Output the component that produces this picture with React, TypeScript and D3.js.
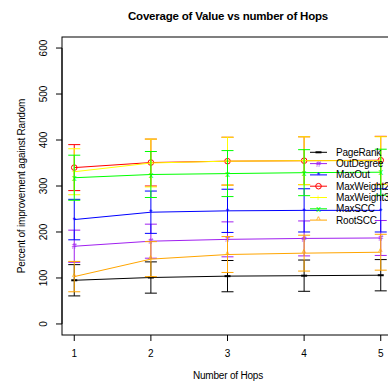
import React from "react";
import * as d3 from "d3";

const hops = [1, 2, 3, 4, 5];
const seriesNames = ["PageRank", "OutDegree", "MaxOut", "MaxWeight2", "MaxWeight3", "MaxSCC", "RootSCC"];
const seriesColors = ["#000000", "#A020F0", "#0000FF", "#FF0000", "#FFFF00", "#00FF00", "#FFA500"];
const seriesSymbols = ["-", "#", "*", "o", "+", "x", "^"];

const pageRank = [95, 101, 104, 105, 106];
const outDegree = [169, 180, 184, 186, 187];
const maxOut = [227, 243, 246, 247, 247];
const maxWeight2 = [340, 351, 354, 355, 356];
const maxWeight3 = [331, 350, 354, 355, 355];
const maxSCC = [318, 325, 327, 329, 330];
const rootSCC = [103, 141, 151, 154, 156];

const pageRankErr = [34, 34, 34, 34, 34];
const outDegreeErr = [35, 37, 38, 38, 38];
const maxOutErr = [44, 46, 47, 47, 47];
const maxWeight2Err = [50, 51, 52, 52, 52];
const maxWeight3Err = [50, 52, 52, 52, 52];
const maxSCCErr = [49, 50, 50, 50, 50];
const rootSCCErr = [33, 38, 39, 39, 39];

const seriesValues = [pageRank, outDegree, maxOut, maxWeight2, maxWeight3, maxSCC, rootSCC];
const seriesErrs = [pageRankErr, outDegreeErr, maxOutErr, maxWeight2Err, maxWeight3Err, maxSCCErr, rootSCCErr];

const yTicks = [0, 100, 200, 300, 400, 500, 600];
const title = "Coverage of Value vs number of Hops";
const xLabel = "Number of Hops";
const yLabel = "Percent of improvement against Random";

const W = 388;
const H = 383;
const font = "'Liberation Sans', Arial, Helvetica, sans-serif";

function Symbol({ sym, x, y, color }: { sym: string; x: number; y: number; color: string }) {
  if (sym === "o") {
    return <circle cx={x} cy={y} r={2.8} fill="none" stroke={color} strokeWidth={1} />;
  }
  if (sym === "-") {
    return <line x1={x - 3} x2={x + 3} y1={y} y2={y} stroke={color} strokeWidth={2} />;
  }
  return (
    <text x={x} y={y} dy="0.35em" textAnchor="middle" fontSize={9} fill={color} fontFamily={font}>
      {sym}
    </text>
  );
}

export default function App() {
  const x = d3.scaleLinear().domain([0.84, 5.16]).range([62, 393]);
  const y = d3.scaleLinear().domain([-24, 624]).range([335, 37]);
  const line = d3
    .line<number>()
    .x((_, i) => x(hops[i]))
    .y((d) => y(d));

  const legendX = 310;
  const legendY0 = 152.3;
  const legendStep = 11.3;

  return (
    <svg width={W} height={H} style={{ position: "absolute", left: 0, top: 0, background: "#fff" }}>
      <rect x={0} y={0} width={W} height={H} fill="#fff" />
      <text x={228} y={20} textAnchor="middle" fontSize={11.5} fontWeight="bold" fontFamily={font} letterSpacing={-0.2}>
        {title}
      </text>
      {/* box */}
      <rect x={62} y={37} width={393 - 62} height={335 - 37} fill="none" stroke="#000" strokeWidth={1} />
      {/* y axis */}
      <line x1={62} x2={62} y1={y(0)} y2={y(600)} stroke="#000" />
      {yTicks.map((t) => (
        <g key={t}>
          <line x1={56} x2={62} y1={y(t)} y2={y(t)} stroke="#000" />
          <text
            transform={`translate(47,${y(t)}) rotate(-90)`}
            textAnchor="middle"
            fontSize={10}
            fontFamily={font}
          >
            {t}
          </text>
        </g>
      ))}
      {/* x axis */}
      {hops.map((h) => (
        <g key={h}>
          <line x1={x(h)} x2={x(h)} y1={335} y2={341} stroke="#000" />
          <text x={x(h)} y={357} textAnchor="middle" fontSize={10} fontFamily={font}>
            {h}
          </text>
        </g>
      ))}
      <text x={228} y={379} textAnchor="middle" fontSize={10} fontFamily={font} letterSpacing={-0.2}>
        {xLabel}
      </text>
      <text transform={`translate(25,186) rotate(-90)`} textAnchor="middle" fontSize={10} fontFamily={font} letterSpacing={-0.2}>
        {yLabel}
      </text>
      {/* series */}
      {seriesValues.map((vals, s) => (
        <g key={seriesNames[s]}>
          <path d={line(vals) || ""} fill="none" stroke={seriesColors[s]} strokeWidth={1} />
          {vals.map((v, i) => {
            const e = seriesErrs[s][i];
            const cx = x(hops[i]);
            return (
              <g key={i}>
                <line x1={cx} x2={cx} y1={y(v - e)} y2={y(v + e)} stroke={seriesColors[s]} strokeWidth={1} />
                <line x1={cx - 6} x2={cx + 6} y1={y(v - e)} y2={y(v - e)} stroke={seriesColors[s]} strokeWidth={1} />
                <line x1={cx - 6} x2={cx + 6} y1={y(v + e)} y2={y(v + e)} stroke={seriesColors[s]} strokeWidth={1} />
                <Symbol sym={seriesSymbols[s]} x={cx} y={y(v)} color={seriesColors[s]} />
              </g>
            );
          })}
        </g>
      ))}
      {/* legend */}
      {seriesNames.map((n, s) => {
        const ly = legendY0 + s * legendStep;
        return (
          <g key={n}>
            <line x1={legendX} x2={legendX + 17} y1={ly} y2={ly} stroke={seriesColors[s]} strokeWidth={1} />
            <Symbol sym={seriesSymbols[s]} x={legendX + 8.5} y={ly} color={seriesColors[s]} />
            <text x={336} y={ly} dy="0.35em" fontSize={10} fontFamily={font} letterSpacing={-0.2}>
              {n}
            </text>
          </g>
        );
      })}
    </svg>
  );
}
